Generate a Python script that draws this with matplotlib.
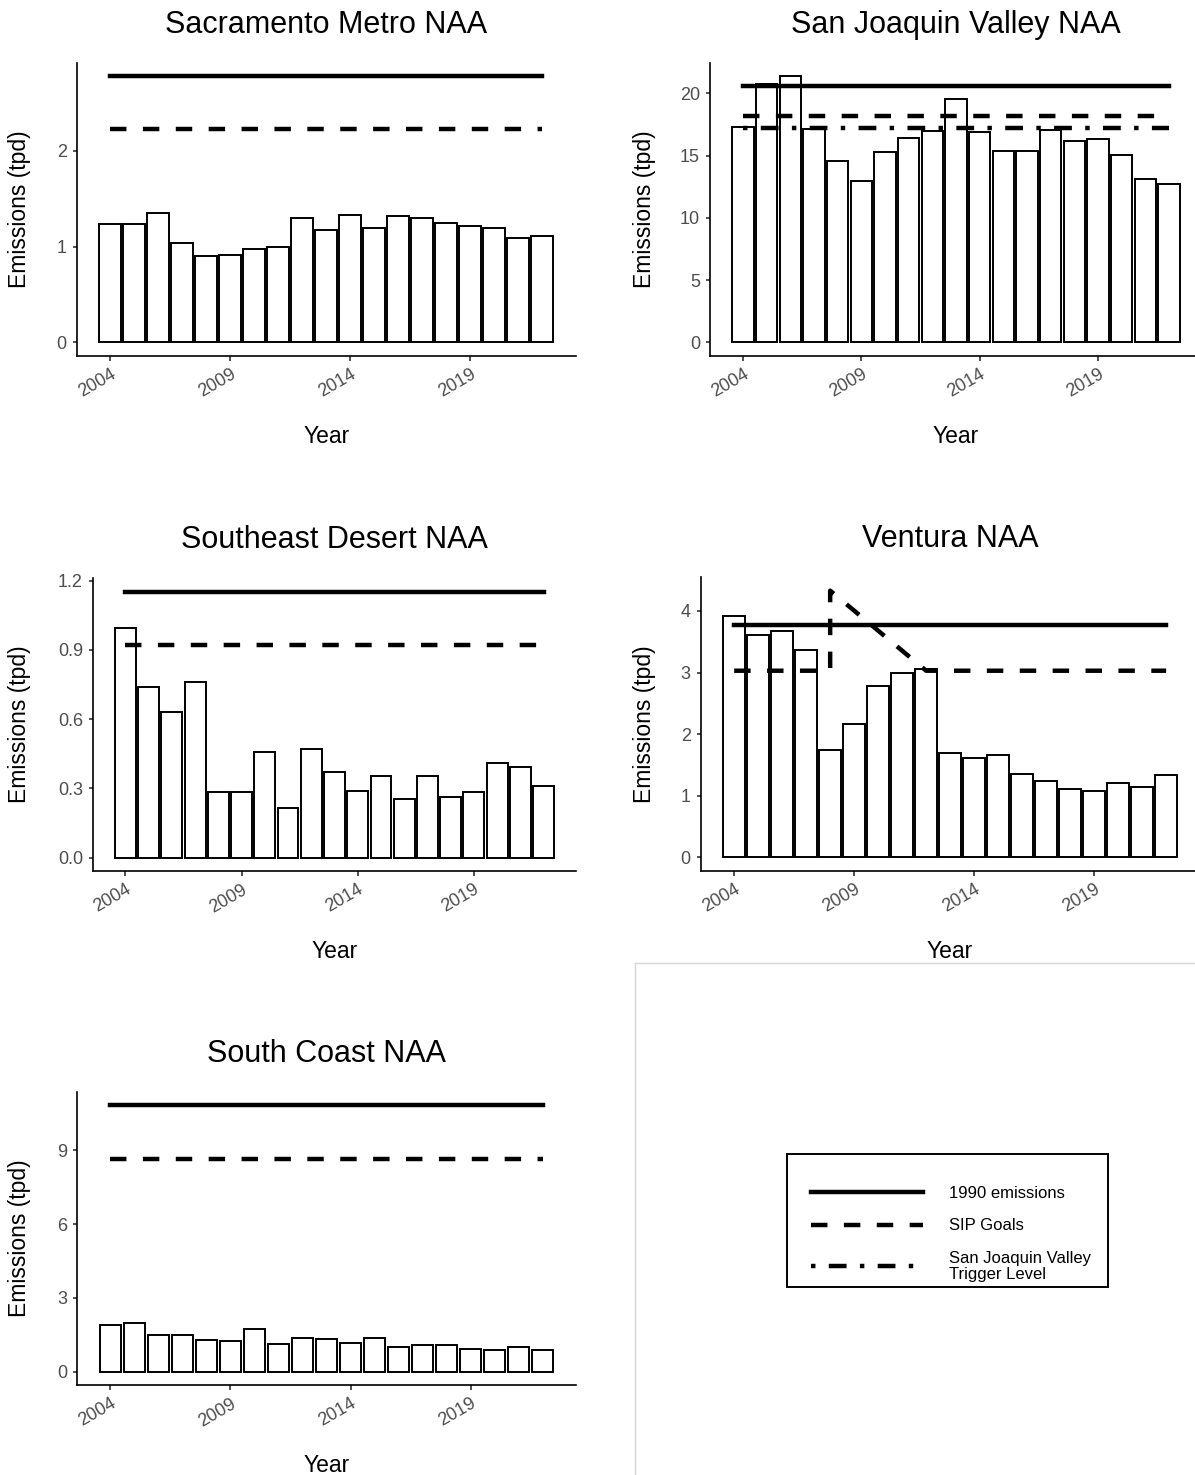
import matplotlib
matplotlib.use("Agg")
import matplotlib.pyplot as plt
from matplotlib.lines import Line2D
from matplotlib.patches import Rectangle
from matplotlib.transforms import ScaledTranslation

plt.rcParams['font.family'] = ['Liberation Sans', 'DejaVu Sans']

# ---------------- data ----------------
years = list(range(2004, 2023))

sac_values = [1.24, 1.24, 1.35, 1.04, 0.90, 0.91, 0.98, 1.00, 1.30, 1.17,
              1.33, 1.19, 1.32, 1.30, 1.25, 1.22, 1.20, 1.09, 1.11]
sjv_values = [17.33, 20.77, 21.36, 17.12, 14.56, 12.99, 15.25, 16.40, 16.96, 19.55,
              16.85, 15.39, 15.39, 17.01, 16.19, 16.35, 15.01, 13.12, 12.69]
sed_values = [0.994, 0.739, 0.633, 0.762, 0.285, 0.284, 0.460, 0.215, 0.471, 0.370,
              0.290, 0.356, 0.255, 0.354, 0.262, 0.284, 0.409, 0.393, 0.310]
ven_values = [3.92, 3.605, 3.676, 3.36, 1.735, 2.17, 2.78, 2.99, 3.06, 1.70,
              1.61, 1.665, 1.36, 1.24, 1.11, 1.076, 1.21, 1.146, 1.33]
sc_values = [1.91, 1.965, 1.48, 1.48, 1.29, 1.23, 1.75, 1.125, 1.38, 1.31,
             1.165, 1.355, 1.00, 1.10, 1.07, 0.92, 0.88, 1.00, 0.89]

# reference levels
sac_1990, sac_sip = 2.78, 2.23
sjv_1990, sjv_sip, sjv_trigger = 20.56, 18.21, 17.20
sed_1990, sed_sip = 1.153, 0.922
ven_1990 = 3.78
ven_sip_years = [2004, 2008, 2008, 2012, 2022]
ven_sip_values = [3.03, 3.03, 4.33, 3.03, 3.03]
sc_1990, sc_sip = 10.85, 8.67

xtick_years = [2004, 2009, 2014, 2019]
sac_yticks = [0, 1, 2]
sjv_yticks = [0, 5, 10, 15, 20]
sed_yticks = [0.0, 0.3, 0.6, 0.9, 1.2]
ven_yticks = [0, 1, 2, 3, 4]
sc_yticks = [0, 3, 6, 9]

titles = ["Sacramento Metro NAA", "San Joaquin Valley NAA", "Southeast Desert NAA",
          "Ventura NAA", "South Coast NAA"]
legend_labels = ["1990 emissions", "SIP Goals", "San Joaquin Valley\nTrigger Level"]

# ---------------- layout ----------------
W, H = 1195, 1475
fig = plt.figure(figsize=(W / 100, H / 100), dpi=100)
fig.patch.set_facecolor('white')

LW = 3.2
DASH = (0, (3.7, 3.7))
DOTDASH = (0, (1, 3, 4, 3))
TICKCOL = '#4D4D4D'
TICKFS = 13


def axpos(l, t, r, b):
    return [l / W, 1 - b / H, (r - l) / W, (b - t) / H]


def make_panel(box, title, values, yticks, ylabels, ylab_x):
    l, t, r, b = box
    ax = fig.add_axes(axpos(l, t, r, b))
    ax.bar(years, values, width=0.9, color='white', edgecolor='black',
           linewidth=1.4, zorder=2)
    ax.set_xlim(years[0] - 0.45 - 0.05 * 18.9, years[-1] + 0.45 + 0.05 * 18.9)
    ax.set_xticks(xtick_years)
    ax.set_xticklabels([str(y) for y in xtick_years], rotation=30, ha='right',
                       va='top', rotation_mode='anchor', color=TICKCOL, fontsize=TICKFS)
    off = ScaledTranslation(5 / 100, 0, fig.dpi_scale_trans)
    for lab in ax.get_xticklabels():
        lab.set_transform(lab.get_transform() + off)
    ax.set_yticks(yticks)
    ax.set_yticklabels(ylabels, color=TICKCOL, fontsize=TICKFS)
    for s in ['top', 'right']:
        ax.spines[s].set_visible(False)
    for s in ['left', 'bottom']:
        ax.spines[s].set_linewidth(1.2)
        ax.spines[s].set_color('black')
    ax.tick_params(length=4.5 * 0.72, width=1.2, color='#333333', pad=4)
    ax.set_facecolor('white')
    cx = (l + r) / 2
    fig.text(cx / W, 1 - (t - 30) / H, title, ha='center', va='baseline',
             fontsize=22, color='black')
    fig.text(cx / W, 1 - (b + 87) / H, "Year", ha='center', va='baseline',
             fontsize=16.5, color='black')
    fig.text(ylab_x / W, 1 - ((t + b) / 2) / H, "Emissions (tpd)", ha='center',
             va='center', rotation=90, fontsize=16.5, color='black')
    return ax


def set_ylim(ax, top):
    ax.set_ylim(-0.05 * top, 1.05 * top)


# Sacramento
ax1 = make_panel((76.7, 63, 575.7, 355.7), titles[0], sac_values, sac_yticks,
                 [str(v) for v in sac_yticks], 20)
ax1.plot([years[0], years[-1]], [sac_1990, sac_1990], color='black', lw=LW, zorder=3)
ax1.plot([years[0], years[-1]], [sac_sip, sac_sip], color='black', lw=LW, ls=DASH, zorder=3)
set_ylim(ax1, max(max(sac_values), sac_1990))

# San Joaquin Valley
ax2 = make_panel((710, 63, 1202, 355.7), titles[1], sjv_values, sjv_yticks,
                 [str(v) for v in sjv_yticks], 645)
ax2.plot([years[0], years[-1]], [sjv_1990, sjv_1990], color='black', lw=LW, zorder=3)
ax2.plot([years[0], years[-1]], [sjv_sip, sjv_sip], color='black', lw=LW, ls=DASH, zorder=3)
ax2.plot([years[0], years[-1]], [sjv_trigger, sjv_trigger], color='black', lw=LW,
         ls=DOTDASH, zorder=3)
set_ylim(ax2, max(max(sjv_values), sjv_1990))

# Southeast Desert
ax3 = make_panel((93, 578.3, 576, 871), titles[2], sed_values, sed_yticks,
                 ["%.1f" % v for v in sed_yticks], 20)
ax3.plot([years[0], years[-1]], [sed_1990, sed_1990], color='black', lw=LW, zorder=3)
ax3.plot([years[0], years[-1]], [sed_sip, sed_sip], color='black', lw=LW, ls=DASH, zorder=3)
set_ylim(ax3, max(max(sed_values), sed_1990))

# Ventura
ax4 = make_panel((700.7, 577.3, 1199.6, 870.7), titles[3], ven_values, ven_yticks,
                 [str(v) for v in ven_yticks], 645)
ax4.plot([years[0], years[-1]], [ven_1990, ven_1990], color='black', lw=LW, zorder=3)
ax4.plot(ven_sip_years, ven_sip_values, color='black', lw=LW, ls=DASH, zorder=3)
set_ylim(ax4, max(max(ven_values), ven_1990, max(ven_sip_values)))

# South Coast
ax5 = make_panel((77, 1091.7, 576, 1385), titles[4], sc_values, sc_yticks,
                 [str(v) for v in sc_yticks], 20)
ax5.plot([years[0], years[-1]], [sc_1990, sc_1990], color='black', lw=LW, zorder=3)
ax5.plot([years[0], years[-1]], [sc_sip, sc_sip], color='black', lw=LW, ls=DASH, zorder=3)
set_ylim(ax5, max(max(sc_values), sc_1990))

# Legend panel
LP = (635.3, 963.3, 1215, 1495)
axl = fig.add_axes(axpos(*LP))
axl.set_xlim(0, 1)
axl.set_ylim(0, 1)
axl.set_xticks([])
axl.set_yticks([])
for s in axl.spines.values():
    s.set_color('#D6D6D6')
    s.set_linewidth(1.0)


def lx(px):
    return (px - LP[0]) / (LP[2] - LP[0])


def ly(py):
    return 1 - (py - LP[1]) / (LP[3] - LP[1])


# legend frame box
axl.add_patch(Rectangle((lx(786.7), ly(1286.7)), lx(1107.7) - lx(786.7),
                        ly(1154) - ly(1286.7), fill=False, edgecolor='black',
                        linewidth=1.4, transform=axl.transAxes))

handles = [Line2D([], [], color='black', lw=LW),
           Line2D([], [], color='black', lw=LW, ls=DASH),
           Line2D([], [], color='black', lw=LW, ls=DOTDASH)]
leg = axl.legend(handles, legend_labels, loc='upper left',
                 bbox_to_anchor=(lx(810.7), ly(1186)),
                 borderaxespad=0, fontsize=12, handlelength=6.75,
                 handletextpad=1.56, borderpad=0, labelspacing=1.05,
                 frameon=False)
leg.get_texts()[2].set_linespacing(1.05)

fig.savefig("out.png", dpi=100, facecolor='white')
